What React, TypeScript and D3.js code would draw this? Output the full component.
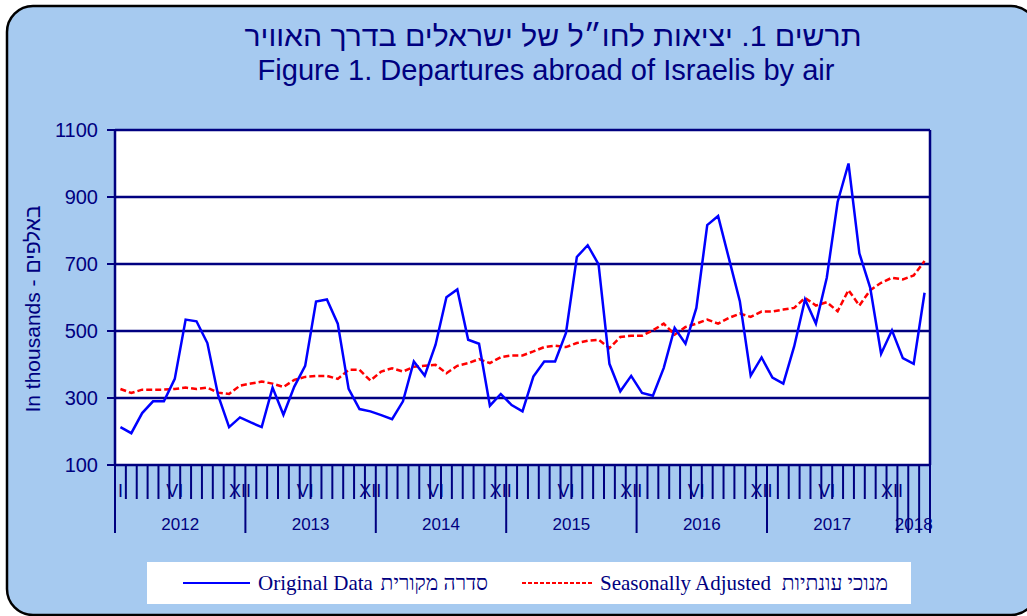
import * as d3 from 'd3'
import { useMemo } from 'react'

// monthly departures, Jan 2012 - Mar 2018 (thousands)
const original = [
    213, 195, 255, 290, 290, 357, 534, 529, 464, 307, 213, 242,
    227, 213, 331, 250, 334, 396, 588, 594, 522, 327, 267, 260,
    249, 237, 290, 409, 367, 459, 601, 624, 474, 462, 277, 312,
    279, 260, 364, 409, 409, 494, 721, 756, 699, 402, 320, 366,
    315, 307, 390, 509, 462, 569, 816, 843, 716, 589, 367, 421,
    361, 343, 454, 594, 522, 659, 885, 1000, 732, 629, 432, 502,
    419, 402, 614
]

const seasonallyAdjusted = [
    327, 315, 325, 325, 325, 327, 331, 327, 331, 316, 312, 337,
    343, 349, 343, 333, 354, 363, 366, 366, 357, 384, 384, 352,
    379, 389, 379, 393, 396, 399, 374, 396, 404, 416, 404, 422,
    427, 427, 439, 452, 456, 452, 464, 471, 474, 449, 482, 486,
    486, 502, 522, 489, 512, 522, 534, 522, 539, 552, 542, 558,
    558, 564, 569, 599, 576, 586, 559, 622, 576, 622, 644, 659,
    654, 666, 709
]

const years = ['2012', '2013', '2014', '2015', '2016', '2017', '2018']
const monthNames = ['I', '', '', '', '', 'VI', '', '', '', '', '', 'XII']
const yTicks = [100, 300, 500, 700, 900, 1100]

const navy = '#000080'
const sky = '#A6CAF0'
const serif = "'Liberation Serif', 'Times New Roman', serif"

const App = () => {
    const svgWidth = 1027
    const svgHeight = 616
    const margin = { left: 115, right: 97, top: 130, bottom: 151 }
    const plotRight = svgWidth - margin.right
    const plotBottom = svgHeight - margin.bottom

    const x = useMemo(() => {
        return d3
            .scaleBand<number>()
            .domain(d3.range(original.length))
            .range([margin.left, plotRight])
            .padding(0)
    }, [])

    const y = useMemo(() => {
        return d3
            .scaleLinear()
            .domain([100, 1100])
            .range([plotBottom, margin.top])
    }, [])

    const bw = x.bandwidth()
    const cx = (i: number) => (x(i) as number) + bw / 2

    const line = d3
        .line<number>()
        .x((_, i) => cx(i))
        .y(d => y(d))

    const boundaries = d3.range(original.length + 1).map(i => margin.left + i * bw)

    const monthLabels = original.map((_, i) => {
        let label = monthNames[i % 12]
        if (i > 0 && label === 'I') label = ''
        if (!label) return null
        return (
            <text key={'m' + i} x={cx(i)} y={plotBottom + 32} textAnchor="middle"
                fontSize={18} fill={navy}>{label}</text>
        )
    })

    const yearLabels = years.map((yr, k) => {
        const start = margin.left + k * 12 * bw
        const end = margin.left + Math.min((k + 1) * 12, original.length) * bw
        return (
            <text key={yr} x={(start + end) / 2} y={plotBottom + 65} textAnchor="middle"
                fontSize={17} fill={navy}>{yr}</text>
        )
    })

    const ticks = boundaries.map((bx, i) => {
        const long = i % 12 === 0 || i >= 72
        return (
            <line key={'t' + i} x1={bx} x2={bx} y1={plotBottom} y2={plotBottom + (long ? 68 : 34)}
                stroke={navy} strokeWidth={2} />
        )
    })

    return (
        <svg width={svgWidth} height={svgHeight} style={{ position: 'absolute', left: 0, top: 0 }}
            fontFamily="'Liberation Sans', Arial, sans-serif">
            <rect x={0} y={0} width={svgWidth} height={svgHeight} fill="#ffffff" />
            <rect x={7} y={6} width={1030} height={609} rx={26} ry={26} fill={sky}
                stroke="#000000" strokeWidth={2.5} />

            <text x={553} y={46} textAnchor="middle" direction="rtl" fontSize={29} fill={navy}
                textLength={617} lengthAdjust="spacingAndGlyphs">
                תרשים 1. יציאות לחו״ל של ישראלים בדרך האוויר
            </text>
            <text x={546} y={80} textAnchor="middle" fontSize={29} fill={navy}
                textLength={577} lengthAdjust="spacingAndGlyphs">
                Figure 1. Departures abroad of Israelis by air
            </text>

            <text transform={`translate(40, 309) rotate(-90)`} textAnchor="middle" fontSize={21}
                fill={navy}>In thousands - באלפים</text>

            <rect x={margin.left} y={margin.top} width={plotRight - margin.left}
                height={plotBottom - margin.top} fill="#ffffff" />

            {yTicks.map(v => (
                <g key={v}>
                    <line x1={margin.left} x2={plotRight} y1={y(v)} y2={y(v)} stroke={navy} strokeWidth={2.5} />
                    <line x1={margin.left - 8} x2={margin.left + 3} y1={y(v)} y2={y(v)} stroke={navy} strokeWidth={2} />
                    <text x={98} y={y(v) + 7} textAnchor="end" fontSize={20} fill={navy}>{v}</text>
                </g>
            ))}
            <line x1={margin.left} x2={margin.left} y1={margin.top} y2={plotBottom} stroke={navy} strokeWidth={2.5} />
            <line x1={plotRight} x2={plotRight} y1={margin.top} y2={plotBottom} stroke={navy} strokeWidth={2.5} />

            <path d={line(seasonallyAdjusted) ?? ''} fill="none" stroke="#ff0000" strokeWidth={2.5}
                strokeDasharray="6 3" />
            <path d={line(original) ?? ''} fill="none" stroke="#0000ff" strokeWidth={2.5}
                strokeLinejoin="miter" />

            {monthLabels}
            {yearLabels}
            {ticks}

            <rect x={147} y={562} width={764} height={42} fill="#ffffff" />
            <line x1={183} x2={250} y1={583} y2={583} stroke="#0000ff" strokeWidth={2} />
            <text x={258} y={590} fontFamily={serif} fontSize={21} fill={navy}>Original Data</text>
            <text x={488} y={590} textAnchor="end" fontFamily={serif} fontSize={21} fill={navy}>סדרה מקורית</text>
            <line x1={522} x2={592} y1={583} y2={583} stroke="#ff0000" strokeWidth={2} strokeDasharray="4 2" />
            <text x={600} y={590} fontFamily={serif} fontSize={21} fill={navy}>Seasonally Adjusted</text>
            <text x={888} y={590} textAnchor="end" fontFamily={serif} fontSize={21} fill={navy}>מנוכי עונתיות</text>
        </svg>
    )
}

export default App
